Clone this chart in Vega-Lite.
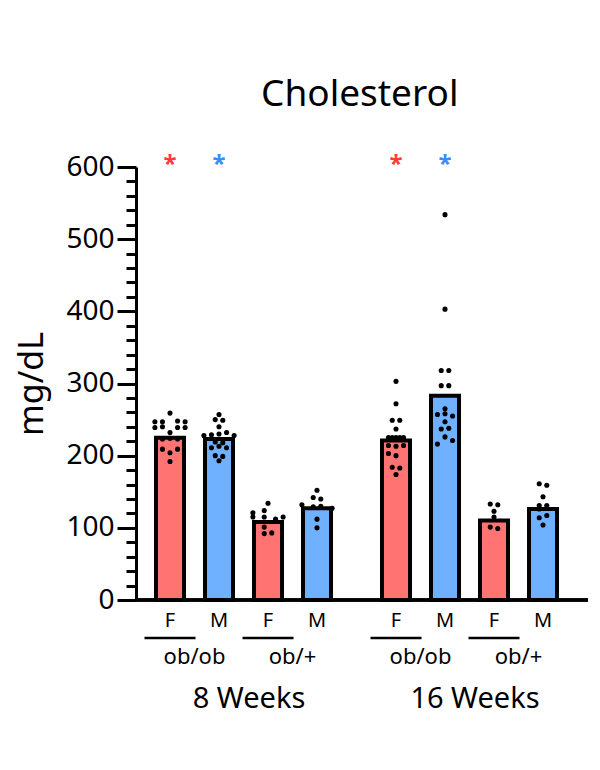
{
"$schema": "https://vega.github.io/schema/vega-lite/v6.json",
"padding": {"left": 15, "top": 76, "right": 5, "bottom": 5},
"bounds": "flush",
"title": {"text": "Cholesterol", "fontSize": 37, "font": "Noto Sans", "fontWeight": "normal", "color": "black", "anchor": "middle", "offset": 39, "dx": 57},
"data": {"values": [
{"w":"8 Weeks","g":"ob/ob F","sex":"F","k":"mean","v":225},
{"w":"8 Weeks","g":"ob/ob M","sex":"M","k":"mean","v":223},
{"w":"8 Weeks","g":"ob/+ F","sex":"F","k":"mean","v":108},
{"w":"8 Weeks","g":"ob/+ M","sex":"M","k":"mean","v":127},
{"w":"16 Weeks","g":"ob/ob F","sex":"F","k":"mean","v":221},
{"w":"16 Weeks","g":"ob/ob M","sex":"M","k":"mean","v":283},
{"w":"16 Weeks","g":"ob/+ F","sex":"F","k":"mean","v":110},
{"w":"16 Weeks","g":"ob/+ M","sex":"M","k":"mean","v":126},
{"w":"8 Weeks","g":"ob/ob F","sex":"F","k":"star"},
{"w":"8 Weeks","g":"ob/ob M","sex":"M","k":"star"},
{"w":"16 Weeks","g":"ob/ob F","sex":"F","k":"star"},
{"w":"16 Weeks","g":"ob/ob M","sex":"M","k":"star"},
{"w":"8 Weeks","g":"ob/ob F","geno":"ob/ob","k":"geno"},
{"w":"8 Weeks","g":"ob/+ F","geno":"ob/+","k":"geno"},
{"w":"16 Weeks","g":"ob/ob F","geno":"ob/ob","k":"geno"},
{"w":"16 Weeks","g":"ob/+ F","geno":"ob/+","k":"geno"},
{"w":"8 Weeks","g":"ob/ob F","k":"pt","s":0,"v":259},
{"w":"8 Weeks","g":"ob/ob F","k":"pt","s":-4,"v":247},
{"w":"8 Weeks","g":"ob/ob F","k":"pt","s":-2,"v":247},
{"w":"8 Weeks","g":"ob/ob F","k":"pt","s":2,"v":248},
{"w":"8 Weeks","g":"ob/ob F","k":"pt","s":4,"v":247},
{"w":"8 Weeks","g":"ob/ob F","k":"pt","s":-4,"v":239},
{"w":"8 Weeks","g":"ob/ob F","k":"pt","s":-2,"v":240},
{"w":"8 Weeks","g":"ob/ob F","k":"pt","s":2,"v":239},
{"w":"8 Weeks","g":"ob/ob F","k":"pt","s":4,"v":239},
{"w":"8 Weeks","g":"ob/ob F","k":"pt","s":0,"v":232},
{"w":"8 Weeks","g":"ob/ob F","k":"pt","s":-2,"v":223},
{"w":"8 Weeks","g":"ob/ob F","k":"pt","s":0,"v":224},
{"w":"8 Weeks","g":"ob/ob F","k":"pt","s":2,"v":223},
{"w":"8 Weeks","g":"ob/ob F","k":"pt","s":-2,"v":209},
{"w":"8 Weeks","g":"ob/ob F","k":"pt","s":2,"v":209},
{"w":"8 Weeks","g":"ob/ob F","k":"pt","s":0,"v":204},
{"w":"8 Weeks","g":"ob/ob F","k":"pt","s":0,"v":192},
{"w":"8 Weeks","g":"ob/ob M","k":"pt","s":0,"v":257},
{"w":"8 Weeks","g":"ob/ob M","k":"pt","s":-1,"v":250},
{"w":"8 Weeks","g":"ob/ob M","k":"pt","s":1,"v":249},
{"w":"8 Weeks","g":"ob/ob M","k":"pt","s":0,"v":240},
{"w":"8 Weeks","g":"ob/ob M","k":"pt","s":-4,"v":228},
{"w":"8 Weeks","g":"ob/ob M","k":"pt","s":-2,"v":229},
{"w":"8 Weeks","g":"ob/ob M","k":"pt","s":0,"v":230},
{"w":"8 Weeks","g":"ob/ob M","k":"pt","s":2,"v":232},
{"w":"8 Weeks","g":"ob/ob M","k":"pt","s":4,"v":228},
{"w":"8 Weeks","g":"ob/ob M","k":"pt","s":-1,"v":219},
{"w":"8 Weeks","g":"ob/ob M","k":"pt","s":1,"v":218},
{"w":"8 Weeks","g":"ob/ob M","k":"pt","s":-2,"v":211},
{"w":"8 Weeks","g":"ob/ob M","k":"pt","s":0,"v":213},
{"w":"8 Weeks","g":"ob/ob M","k":"pt","s":2,"v":211},
{"w":"8 Weeks","g":"ob/ob M","k":"pt","s":-1,"v":200},
{"w":"8 Weeks","g":"ob/ob M","k":"pt","s":1,"v":199},
{"w":"8 Weeks","g":"ob/ob M","k":"pt","s":0,"v":193},
{"w":"8 Weeks","g":"ob/+ F","k":"pt","s":0,"v":134},
{"w":"8 Weeks","g":"ob/+ F","k":"pt","s":-1,"v":124},
{"w":"8 Weeks","g":"ob/+ F","k":"pt","s":-4,"v":121},
{"w":"8 Weeks","g":"ob/+ F","k":"pt","s":-4,"v":115},
{"w":"8 Weeks","g":"ob/+ F","k":"pt","s":-1,"v":115},
{"w":"8 Weeks","g":"ob/+ F","k":"pt","s":4,"v":115},
{"w":"8 Weeks","g":"ob/+ F","k":"pt","s":2,"v":112},
{"w":"8 Weeks","g":"ob/+ F","k":"pt","s":-1,"v":101},
{"w":"8 Weeks","g":"ob/+ F","k":"pt","s":-1,"v":92},
{"w":"8 Weeks","g":"ob/+ F","k":"pt","s":1,"v":93},
{"w":"8 Weeks","g":"ob/+ M","k":"pt","s":0,"v":152},
{"w":"8 Weeks","g":"ob/+ M","k":"pt","s":-1,"v":142},
{"w":"8 Weeks","g":"ob/+ M","k":"pt","s":1,"v":140},
{"w":"8 Weeks","g":"ob/+ M","k":"pt","s":-4,"v":132},
{"w":"8 Weeks","g":"ob/+ M","k":"pt","s":-1,"v":129},
{"w":"8 Weeks","g":"ob/+ M","k":"pt","s":1,"v":130},
{"w":"8 Weeks","g":"ob/+ M","k":"pt","s":4,"v":127},
{"w":"8 Weeks","g":"ob/+ M","k":"pt","s":0,"v":112},
{"w":"8 Weeks","g":"ob/+ M","k":"pt","s":0,"v":100},
{"w":"16 Weeks","g":"ob/ob F","k":"pt","s":0,"v":303},
{"w":"16 Weeks","g":"ob/ob F","k":"pt","s":0,"v":272},
{"w":"16 Weeks","g":"ob/ob F","k":"pt","s":-1,"v":249},
{"w":"16 Weeks","g":"ob/ob F","k":"pt","s":1,"v":249},
{"w":"16 Weeks","g":"ob/ob F","k":"pt","s":0,"v":237},
{"w":"16 Weeks","g":"ob/ob F","k":"pt","s":-2,"v":225},
{"w":"16 Weeks","g":"ob/ob F","k":"pt","s":-1,"v":225},
{"w":"16 Weeks","g":"ob/ob F","k":"pt","s":0,"v":225},
{"w":"16 Weeks","g":"ob/ob F","k":"pt","s":1,"v":225},
{"w":"16 Weeks","g":"ob/ob F","k":"pt","s":2,"v":225},
{"w":"16 Weeks","g":"ob/ob F","k":"pt","s":-2,"v":214},
{"w":"16 Weeks","g":"ob/ob F","k":"pt","s":0,"v":213},
{"w":"16 Weeks","g":"ob/ob F","k":"pt","s":2,"v":214},
{"w":"16 Weeks","g":"ob/ob F","k":"pt","s":-2,"v":203},
{"w":"16 Weeks","g":"ob/ob F","k":"pt","s":0,"v":200},
{"w":"16 Weeks","g":"ob/ob F","k":"pt","s":-1,"v":184},
{"w":"16 Weeks","g":"ob/ob F","k":"pt","s":1,"v":183},
{"w":"16 Weeks","g":"ob/ob F","k":"pt","s":0,"v":174},
{"w":"16 Weeks","g":"ob/ob M","k":"pt","s":0,"v":534},
{"w":"16 Weeks","g":"ob/ob M","k":"pt","s":0,"v":403},
{"w":"16 Weeks","g":"ob/ob M","k":"pt","s":-1,"v":318},
{"w":"16 Weeks","g":"ob/ob M","k":"pt","s":1,"v":318},
{"w":"16 Weeks","g":"ob/ob M","k":"pt","s":-1,"v":297},
{"w":"16 Weeks","g":"ob/ob M","k":"pt","s":1,"v":297},
{"w":"16 Weeks","g":"ob/ob M","k":"pt","s":0,"v":265},
{"w":"16 Weeks","g":"ob/ob M","k":"pt","s":-2,"v":257},
{"w":"16 Weeks","g":"ob/ob M","k":"pt","s":0,"v":258},
{"w":"16 Weeks","g":"ob/ob M","k":"pt","s":2,"v":255},
{"w":"16 Weeks","g":"ob/ob M","k":"pt","s":0,"v":247},
{"w":"16 Weeks","g":"ob/ob M","k":"pt","s":-1,"v":237},
{"w":"16 Weeks","g":"ob/ob M","k":"pt","s":1,"v":238},
{"w":"16 Weeks","g":"ob/ob M","k":"pt","s":0,"v":226},
{"w":"16 Weeks","g":"ob/ob M","k":"pt","s":2,"v":221},
{"w":"16 Weeks","g":"ob/ob M","k":"pt","s":-2,"v":216},
{"w":"16 Weeks","g":"ob/+ F","k":"pt","s":-1,"v":133},
{"w":"16 Weeks","g":"ob/+ F","k":"pt","s":1,"v":132},
{"w":"16 Weeks","g":"ob/+ F","k":"pt","s":0,"v":123},
{"w":"16 Weeks","g":"ob/+ F","k":"pt","s":0,"v":115},
{"w":"16 Weeks","g":"ob/+ F","k":"pt","s":-1,"v":101},
{"w":"16 Weeks","g":"ob/+ F","k":"pt","s":1,"v":99},
{"w":"16 Weeks","g":"ob/+ M","k":"pt","s":-1,"v":161},
{"w":"16 Weeks","g":"ob/+ M","k":"pt","s":1,"v":159},
{"w":"16 Weeks","g":"ob/+ M","k":"pt","s":0,"v":143},
{"w":"16 Weeks","g":"ob/+ M","k":"pt","s":-1,"v":131},
{"w":"16 Weeks","g":"ob/+ M","k":"pt","s":1,"v":131},
{"w":"16 Weeks","g":"ob/+ M","k":"pt","s":-1,"v":126},
{"w":"16 Weeks","g":"ob/+ M","k":"pt","s":1,"v":127},
{"w":"16 Weeks","g":"ob/+ M","k":"pt","s":-1,"v":114},
{"w":"16 Weeks","g":"ob/+ M","k":"pt","s":1,"v":117},
{"w":"16 Weeks","g":"ob/+ M","k":"pt","s":0,"v":104}
]},
"spacing": 0,
"facet": {"column": {"field": "w", "type": "ordinal", "sort": ["8 Weeks", "16 Weeks"], "title": null,
  "header": {"labelOrient": "bottom", "labelFontSize": 29, "labelFont": "Noto Sans", "labelColor": "black", "labelPadding": 85}}},
"spec": {
  "width": 226,
  "height": 433,
  "layer": [
    {"transform": [{"filter": "datum.k === 'mean'"}],
     "mark": {"type": "bar", "stroke": "black", "strokeWidth": 4, "width": 28},
     "encoding": {
       "x": {"field": "g", "type": "nominal", "sort": ["ob/ob F", "ob/ob M", "ob/+ F", "ob/+ M"],
         "scale": {"domain": ["ob/ob F", "ob/ob M", "ob/+ F", "ob/+ M"], "paddingInner": 0, "paddingOuter": 0.306, "align": 0.317},
         "axis": null},
       "y": {"field": "v", "type": "quantitative", "scale": {"domain": [0, 600], "nice": false},
         "axis": {"title": "mg/dL", "titleFontSize": 34, "titleFont": "Noto Sans", "titleFontWeight": "normal", "titleColor": "black", "titlePadding": 16,
           "values": [0,20,40,60,80,100,120,140,160,180,200,220,240,260,280,300,320,340,360,380,400,420,440,460,480,500,520,540,560,580,600],
           "tickCount": 40,
           "labelExpr": "datum.value % 100 === 0 ? datum.label : ''", "labelOverlap": false,
           "tickSize": {"condition": {"test": "datum.value % 100 === 0", "value": 19}, "value": 10},
           "tickWidth": 3, "tickColor": "black", "domainColor": "black", "domainWidth": 3, "grid": false,
           "labelFontSize": 28, "labelFont": "Noto Sans", "labelColor": "black", "labelPadding": 3}},
       "fill": {"field": "sex", "type": "nominal", "scale": {"domain": ["F", "M"], "range": ["#FF7373", "#6FB1FF"]}, "legend": null}
     }},
    {"transform": [{"filter": "datum.k === 'pt'"}],
     "mark": {"type": "circle", "size": 26, "color": "black", "opacity": 1},
     "encoding": {
       "x": {"field": "g", "type": "nominal"},
       "xOffset": {"field": "s", "type": "ordinal", "scale": {"domain": [-4,-3,-2,-1,0,1,2,3,4], "range": [7.5, 41.5]}},
       "y": {"field": "v", "type": "quantitative"}
     }},
    {"transform": [{"filter": "datum.k === 'mean'"}],
     "mark": {"type": "rule", "strokeWidth": 3, "color": "black"},
     "encoding": {
       "y": {"datum": 0, "type": "quantitative"}
     }},
    {"transform": [{"filter": "datum.k === 'mean'"}],
     "mark": {"type": "text", "fontSize": 20, "font": "Noto Sans", "color": "black", "baseline": "alphabetic", "dy": 27},
     "encoding": {
       "x": {"field": "g", "type": "nominal"},
       "y": {"datum": 0, "type": "quantitative"},
       "text": {"field": "sex"}
     }},
    {"transform": [{"filter": "datum.k === 'star'"}],
     "mark": {"type": "text", "text": "*", "fontSize": 24, "font": "Noto Sans", "fontWeight": "bold", "baseline": "alphabetic", "dy": 5},
     "encoding": {
       "x": {"field": "g", "type": "nominal"},
       "y": {"datum": 600, "type": "quantitative"},
       "color": {"field": "sex", "type": "nominal", "scale": {"domain": ["F", "M"], "range": ["#FF3B3B", "#3A8BFF"]}, "legend": null}
     }},
    {"transform": [{"filter": "datum.k === 'geno'"}],
     "mark": {"type": "tick", "size": 51, "thickness": 2.5, "color": "black", "yOffset": 38, "opacity": 1},
     "encoding": {
       "x": {"field": "g", "type": "nominal", "bandPosition": 1},
       "y": {"datum": 0, "type": "quantitative"}
     }},
    {"transform": [{"filter": "datum.k === 'geno'"}],
     "mark": {"type": "text", "fontSize": 22, "font": "Noto Sans", "color": "black", "baseline": "alphabetic", "dy": 64},
     "encoding": {
       "x": {"field": "g", "type": "nominal", "bandPosition": 1},
       "y": {"datum": 0, "type": "quantitative"},
       "text": {"field": "geno"}
     }}
  ]
},
"config": {"view": {"stroke": null}, "font": "Noto Sans"}
}
